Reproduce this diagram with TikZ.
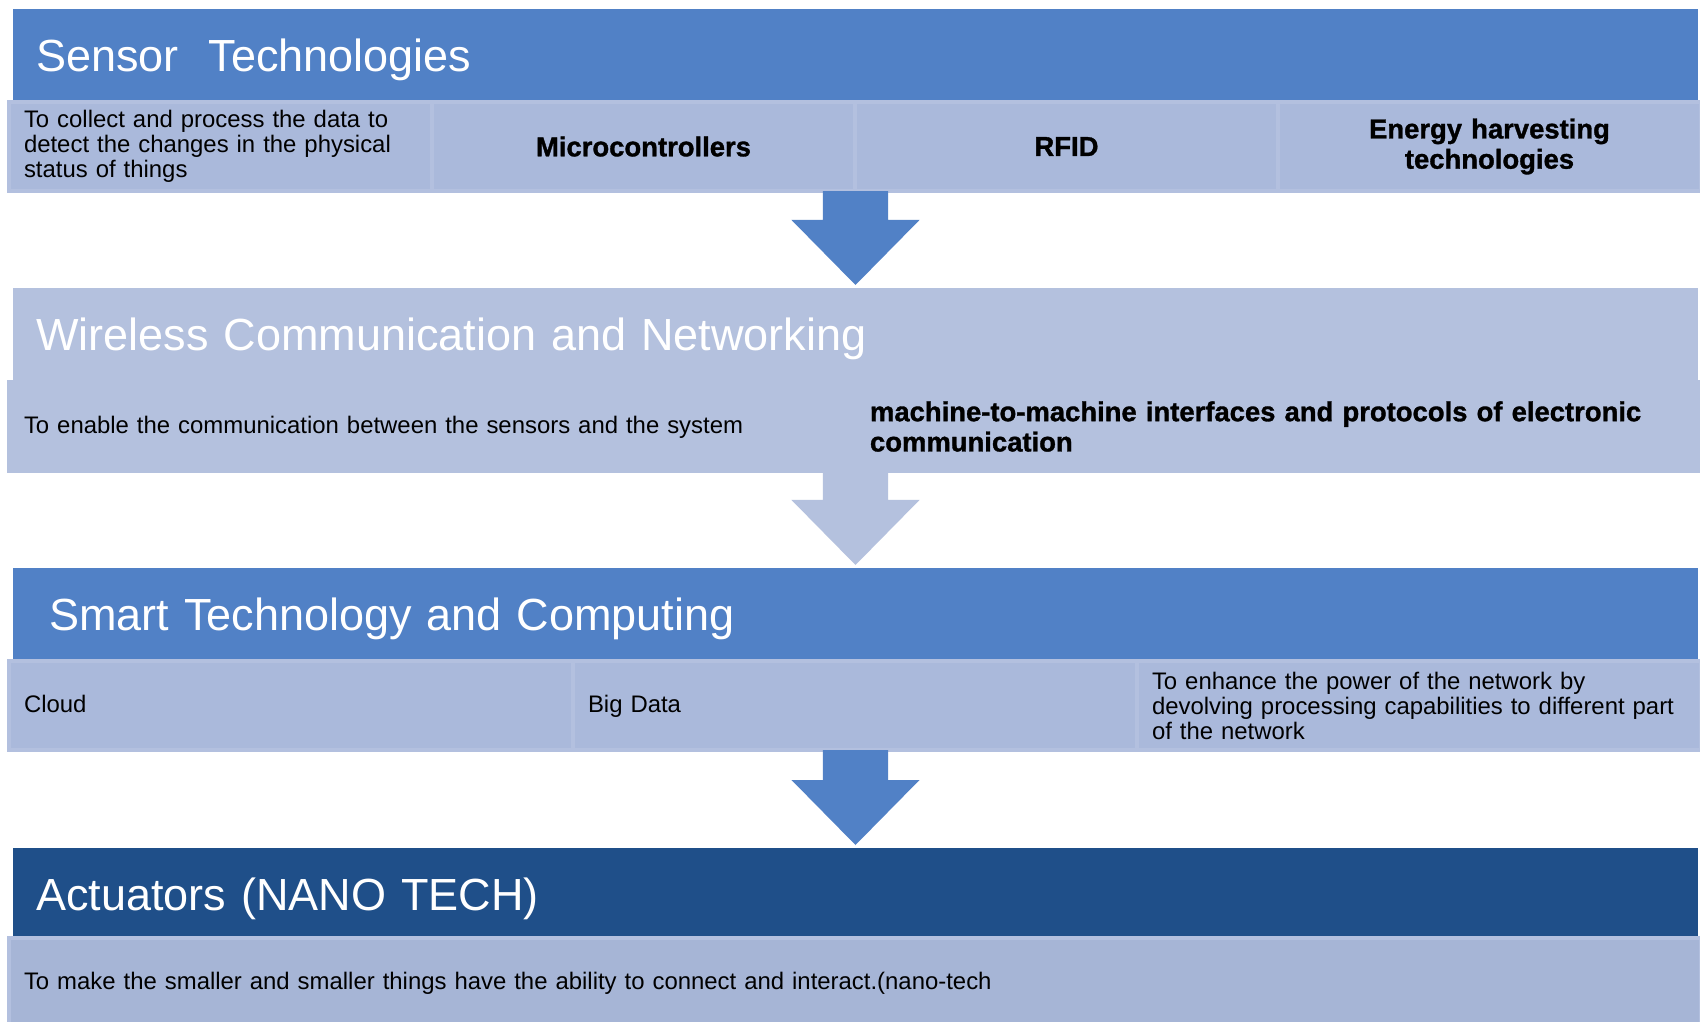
\documentclass[tikz,border=0pt]{standalone}
\usepackage{fontspec}
\setmainfont{Liberation Sans}
\newfontfamily\keyfont[FakeBold=1.2]{Liberation Sans Bold}
\usetikzlibrary{positioning,calc}

\definecolor{bandblue}{HTML}{5181C6}
\definecolor{bandpale}{HTML}{B4C1DE}
\definecolor{banddark}{HTML}{1F4F89}
\definecolor{cellfill}{HTML}{AAB9DB}
\definecolor{cellrim}{HTML}{B3C0DF}
\definecolor{footfill}{HTML}{A6B5D6}

% down arrow between two layers: #1 top of shaft, #2 tip, #3 colour
\newcommand\flowarrow[3]{%
  \fill[#3] ($(#1)+(-32.5,0)$) -- ($(#1)+(32.5,0)$) -- ($(#2)+(32.5,-65)$) -- ($(#2)+(64,-65)$) -- (#2) -- ($(#2)+(-64,-65)$) -- ($(#2)+(-32.5,-65)$) -- cycle;}

\begin{document}
\begin{tikzpicture}[x=0.01cm, y=-0.01cm,
  bar/.style={anchor=north west, minimum width=16.84cm, minimum height=0.93cm, inner xsep=0.23cm, inner ysep=0pt, outer sep=0pt, text width=16.38cm, align=left, text height=0.35cm, text depth=0.04cm, text=white, font=\fontsize{12.8}{14}\selectfont},
  cell/.style={fill=cellfill, draw=cellrim, line width=1pt, minimum height=0.89cm, inner xsep=0.15cm, inner ysep=0pt, outer sep=0pt, font=\fontsize{6.8}{7.1}\selectfont},
  oneline/.style={text height=0.18cm, text depth=0.05cm},
  quarter/.style={cell, text width=3.9275cm, align=center},
  half/.style={cell, fill=bandpale, draw=bandpale, text width=8.155cm, align=left},
  third/.style={cell, text width=5.3367cm, align=left},
  key/.style={font=\fontsize{7.8}{8.6}\selectfont\keyfont}]
\path[use as bounding box, fill=white] (0,0) rectangle (1700,1022);

\node[bar, fill=bandblue] (t1) at (13,9) {Sensor\ \ Technologies};
\node[quarter, anchor=north west, align=left] (s1a) at (9,102) {To collect and process the data to\\detect the changes in the physical\\status of things};
\node[quarter, key, right=0pt of s1a] (s1b) {Microcontrollers};
\node[quarter, key, right=0pt of s1b] (s1c) {RFID};
\node[quarter, key, right=0pt of s1c] (s1d) {Energy harvesting\\technologies};

\node[bar, fill=bandpale] (t2) at (13,288) {Wireless Communication and Networking};
\node[half, oneline, anchor=north west] (s2a) at (9,382) {To enable the communication between the sensors and the system};
\node[half, key, right=0pt of s2a] (s2b) {machine-to-machine interfaces and protocols of electronic\\communication};

\node[bar, fill=bandblue, inner xsep=0.36cm, text width=16.12cm] (t3) at (13,568) {Smart Technology and Computing};
\node[third, oneline, anchor=north west] (s3a) at (9,661) {Cloud};
\node[third, oneline, right=0pt of s3a] (s3b) {Big Data};
\node[third, right=0pt of s3b] (s3c) {To enhance the power of the network by\\devolving processing capabilities to different part\\of the network};

\node[bar, fill=banddark] (t4) at (13,848) {Actuators (NANO TECH)};
\node[cell, oneline, fill=footfill, anchor=north west, minimum height=0.9cm, text width=16.61cm, align=left] (s4a) at (9,938) {To make the smaller and smaller things have the ability to connect and interact.(nano-tech};

\coordinate (a1) at ($(t2.north)+(0,-3)$);
\coordinate (a2) at ($(t3.north)+(0,-3)$);
\coordinate (a3) at ($(t4.north)+(0,-3)$);
\flowarrow{a1 |- s1b.south}{a1}{bandblue}
\flowarrow{a2 |- s2a.south}{a2}{bandpale}
\flowarrow{a3 |- s3b.south}{a3}{bandblue}
\end{tikzpicture}
\end{document}
